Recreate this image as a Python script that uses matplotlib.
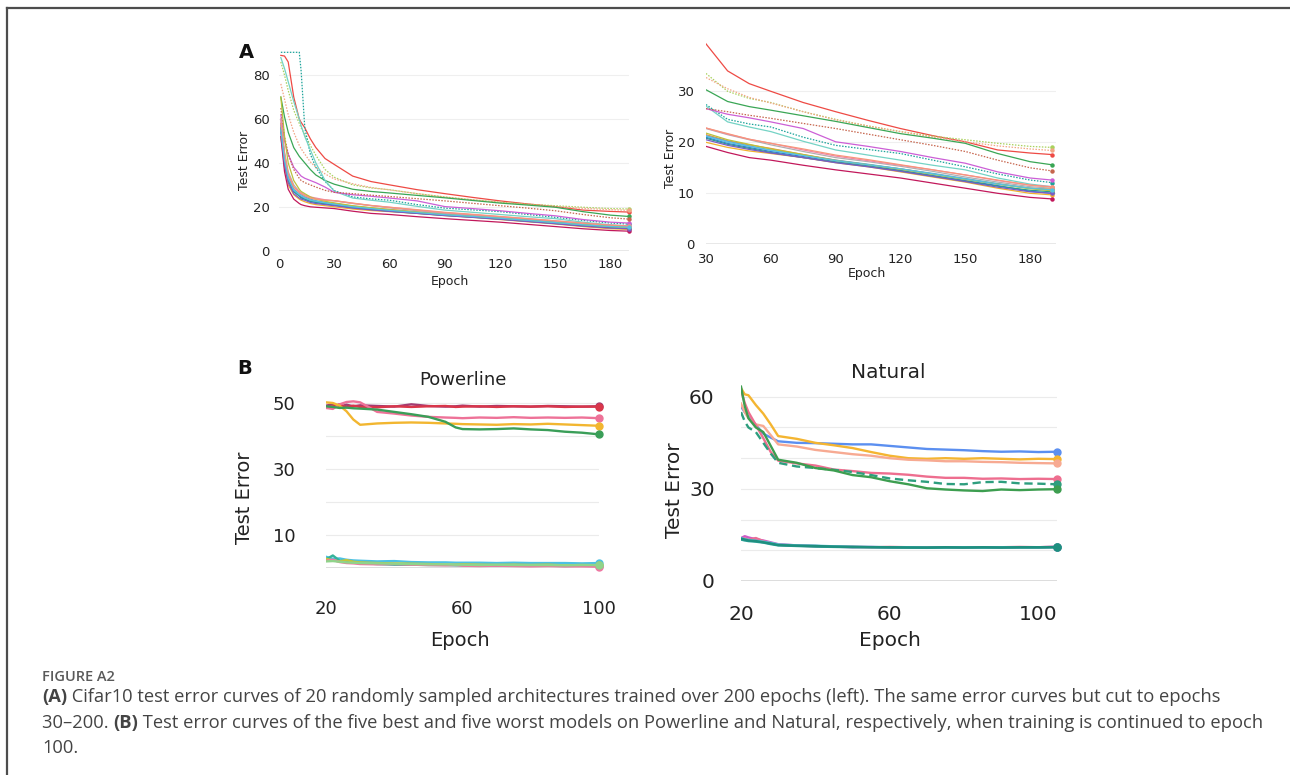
import matplotlib.pyplot as plt
from matplotlib.lines import Line2D

# (A) Cifar10: test error of 20 sampled architectures at selected epochs
arch_epochs = [1, 3, 5, 8, 11, 12, 14, 17, 20, 25, 30, 40, 50, 60, 75, 90, 105, 120, 135, 150, 165, 180, 190]
arch_errors = [
    [89, 88.7, 86, 70, 60, 58.5, 56, 51, 47, 42, 39.3, 34, 31.5, 30, 27.8, 26, 24.3, 22.7, 21.3, 20.1, 18.5, 17.9, 17.6],
    [86, 80, 73, 64, 58, 56, 53, 48, 43.5, 37, 33.5, 30, 28.6, 27.8, 26, 24.5, 23.2, 22.1, 21.2, 20.5, 19.8, 19.2, 19.0],
    [76, 69, 62, 54, 48, 46.5, 44, 40.5, 38, 35, 32.7, 30.5, 28.8, 27.7, 26, 24.4, 23.2, 22.1, 21, 20.1, 19.3, 18.7, 18.4],
    [70, 61, 54, 47, 43, 42, 40, 37, 34.5, 32, 30.3, 28, 27, 26.3, 25.2, 24.1, 22.9, 21.7, 20.8, 19.8, 17.8, 16.2, 15.6],
    [90.4, 90.4, 90.4, 90.4, 90.4, 82, 56, 44, 38, 31.5, 27.4, 24.5, 23.6, 23, 21, 19.4, 18.6, 17.8, 16.5, 15.2, 13.8, 12.6, 12.1],
    [88, 83, 77, 68, 60, 57, 52, 46, 40, 32, 27.1, 24, 23, 22.1, 20.2, 18.5, 17.5, 16.5, 15.5, 14.6, 13, 11.8, 11.3],
    [62, 50, 44, 38, 35, 34, 33, 32, 31, 29, 26.6, 25.5, 24.8, 24, 22.7, 20.1, 19.2, 18.2, 17, 15.9, 14.2, 13, 12.6],
    [65, 52, 44, 37, 33, 32, 31, 30, 29, 27.5, 26.6, 26, 25.3, 24.7, 23.7, 22.7, 21.6, 20.5, 19.4, 18.2, 16.5, 15, 14.4],
    [60, 45, 36, 30, 27, 26, 25, 24, 23.5, 23, 22.7, 21.5, 20.5, 19.5, 18.2, 17, 16.2, 15.3, 14.3, 13.2, 12.2, 11.3, 11],
    [55, 40, 32, 27, 25, 24.5, 24, 23, 22.5, 22, 21.5, 20.3, 19.5, 18.8, 17.6, 16.5, 15.6, 14.8, 13.8, 12.8, 11.8, 11, 10.8],
    [58, 42, 33, 27, 25, 24.5, 23.5, 22.5, 22, 21.5, 21, 19.8, 19, 18.2, 17.2, 16.2, 15.4, 14.5, 13.5, 12.5, 11.5, 10.4, 10],
    [52, 38, 30, 25.5, 23.5, 23, 22.3, 21.5, 21, 20.5, 20, 19, 18.3, 17.8, 17, 16, 15.2, 14.2, 13.2, 12.2, 11, 10, 9.7],
    [56, 41, 32, 27, 25, 24, 23.5, 22.5, 22, 21.3, 20.8, 19.6, 18.8, 18, 17, 16.1, 15.3, 14.4, 13.4, 12.4, 11.4, 10.6, 10.3],
    [57, 43, 34, 28, 26, 25.5, 24.5, 23.5, 22.8, 22, 21.3, 20.2, 19.3, 18.5, 17.5, 16.5, 15.7, 14.8, 13.9, 12.9, 11.9, 11, 10.6],
    [60, 44, 35, 29, 27, 26.5, 25.5, 24.5, 24, 23.2, 22.8, 21.6, 20.6, 19.8, 18.5, 17.3, 16.4, 15.5, 14.6, 13.6, 12.5, 11.6, 11.3],
    [70, 52, 40, 32, 28, 27, 26, 24.5, 23.5, 22.5, 21.8, 20.5, 19.6, 18.7, 17.6, 16.4, 15.6, 14.7, 13.7, 12.7, 11.8, 10.9, 10.5],
    [52, 36, 28, 23.5, 21.5, 21, 20.5, 20, 19.8, 19.5, 19.2, 18, 17, 16.5, 15.5, 14.6, 13.8, 13, 12, 11, 10, 9.2, 8.9],
    [58, 44, 35, 29, 26.5, 26, 25, 24, 23.5, 23, 22.8, 21.7, 20.6, 19.8, 18.7, 17.5, 16.6, 15.6, 14.6, 13.6, 12.6, 11.6, 11.2],
    [54, 39, 31, 26, 24, 23.5, 23, 22, 21.5, 21, 20.5, 19.4, 18.6, 17.9, 17, 16, 15.2, 14.3, 13.3, 12.3, 11.2, 10.3, 10],
    [55, 41, 33, 27.5, 25.5, 25, 24, 23, 22.5, 21.8, 21.2, 20, 19.2, 18.4, 17.4, 16.4, 15.6, 14.8, 13.8, 12.8, 11.8, 11, 10.7],
]
arch_colors = ['#ee4a44', '#a9d15c', '#f2a585', '#3aa655', '#1ba39a', '#74d3c5', '#cc5fd6', '#c6654d',
               '#b0b0b0', '#f28e3c', '#3b6fe0', '#f2b12e', '#2a9d8f', '#5fa8d3', '#f286a8', '#b9c23d',
               '#c2185b', '#f7967a', '#7b5cc4', '#56c4e0']
arch_dotted = [False, True, True, False, True, False, False, True] + [False] * 12

# (B) Powerline: five worst (top) and five best (bottom) models
power_epochs = [20, 22, 24, 26, 28, 30, 35, 40, 45, 50, 55, 58, 60, 65, 70, 75, 80, 85, 90, 95, 100]
power_errors = [
    [49.2, 49.6, 48.8, 49.5, 49.0, 49.3, 49.1, 48.9, 49.6, 49.1, 48.9, 49.0, 49.2, 48.9, 49.1, 49.0, 48.9, 49.1, 49.0, 48.9, 49.0],
    [48.6, 49.0, 49.6, 48.7, 49.2, 48.8, 48.7, 49.0, 48.8, 49.0, 49.1, 48.8, 48.9, 49.0, 48.8, 49.0, 48.9, 49.0, 48.8, 48.9, 48.9],
    [48.5, 48.2, 49.6, 50.3, 50.5, 50.2, 47.3, 46.8, 46.2, 45.8, 45.6, 45.5, 45.4, 45.6, 45.5, 45.7, 45.5, 45.6, 45.5, 45.6, 45.4],
    [50.2, 50.0, 49.2, 47.5, 45.0, 43.4, 43.8, 44.0, 44.1, 44.0, 43.8, 43.7, 43.6, 43.5, 43.4, 43.6, 43.5, 43.7, 43.5, 43.3, 43.1],
    [49.0, 48.8, 48.5, 48.6, 48.4, 48.3, 48.0, 47.3, 46.6, 45.8, 44.3, 42.6, 42.1, 42.0, 42.1, 42.3, 42.0, 41.8, 41.3, 41.0, 40.5],
    [3.4, 2.8, 2.9, 2.5, 2.3, 2.2, 2.0, 2.1, 1.8, 1.7, 1.7, 1.6, 1.6, 1.6, 1.5, 1.6, 1.5, 1.5, 1.5, 1.4, 1.5],
    [2.6, 3.8, 2.2, 2.0, 1.8, 1.5, 1.2, 1.0, 1.0, 0.9, 0.9, 0.8, 0.8, 0.8, 0.7, 0.8, 0.7, 0.7, 0.6, 0.7, 0.6],
    [2.8, 2.3, 2.0, 2.4, 1.9, 1.7, 1.5, 1.4, 1.3, 1.2, 1.0, 1.0, 1.1, 1.0, 0.9, 1.0, 0.9, 1.0, 0.8, 0.9, 0.8],
    [2.2, 2.5, 1.8, 1.5, 1.4, 1.2, 1.1, 1.2, 1.0, 0.9, 0.8, 0.9, 0.7, 0.6, 0.7, 0.6, 0.5, 0.6, 0.5, 0.5, 0.4],
    [2.0, 2.1, 1.9, 1.7, 1.6, 1.5, 1.4, 1.3, 1.2, 1.1, 1.1, 1.0, 1.0, 0.9, 1.0, 0.9, 0.9, 0.9, 0.8, 0.9, 0.9],
]
power_colors = ['#a23b72', '#d9364a', '#ee7298', '#f2b630', '#3a9e58',
                '#4cc1e3', '#36b39a', '#c3c43a', '#ef77a2', '#8fd48a']

# (B) Natural
natural_epochs = [20, 21, 22, 24, 26, 28, 30, 35, 40, 45, 50, 55, 60, 65, 70, 75, 80, 85, 90, 95, 100, 105]
natural_errors = [
    [56.8, 55.0, 53.5, 50.8, 48.0, 46.7, 45.5, 45.0, 44.9, 44.7, 44.5, 44.5, 44.0, 43.5, 43.0, 42.8, 42.6, 42.3, 42.1, 42.2, 42.0, 42.1],
    [62.8, 60.8, 60.5, 57.3, 54.5, 51.0, 47.2, 46.3, 45.0, 44.2, 43.3, 42.0, 40.8, 40.0, 39.8, 40.0, 39.8, 40.0, 39.8, 39.6, 39.8, 39.7],
    [57.8, 55.0, 53.0, 51.0, 50.5, 47.5, 44.5, 43.8, 42.7, 42.0, 41.3, 40.8, 40.0, 39.5, 39.3, 39.0, 39.0, 38.8, 38.7, 38.5, 38.4, 38.3],
    [62.2, 58.0, 55.0, 50.8, 46.5, 42.0, 39.2, 38.3, 37.6, 36.3, 35.8, 35.2, 35.0, 34.6, 34.0, 33.6, 33.6, 33.3, 33.4, 33.2, 33.3, 33.2],
    [55.0, 52.0, 50.0, 48.5, 45.0, 41.5, 38.5, 37.3, 36.8, 36.2, 35.5, 34.5, 33.4, 32.8, 32.3, 31.6, 31.5, 32.2, 32.3, 31.8, 31.7, 31.5],
    [63.3, 57.0, 53.0, 50.0, 48.5, 44.0, 39.5, 38.5, 36.8, 36.0, 34.5, 33.8, 32.5, 31.5, 30.2, 29.8, 29.5, 29.3, 29.8, 29.6, 29.8, 29.9],
    [14.0, 14.6, 14.2, 13.6, 13.2, 12.6, 12.0, 11.6, 11.4, 11.2, 11.0, 11.1, 10.9, 11.0, 10.9, 11.0, 10.9, 11.0, 10.9, 11.0, 11.0, 11.1],
    [13.6, 13.9, 13.5, 14.0, 13.0, 12.3, 11.8, 11.5, 11.3, 11.2, 11.2, 11.0, 11.1, 11.0, 11.0, 10.9, 11.0, 11.0, 11.0, 11.1, 11.0, 11.2],
    [14.0, 13.6, 13.4, 13.1, 12.8, 12.4, 11.9, 11.6, 11.5, 11.3, 11.2, 11.1, 11.0, 11.0, 10.9, 10.9, 11.0, 10.9, 11.0, 11.0, 11.0, 11.1],
    [13.5, 13.2, 13.0, 12.8, 12.5, 12.0, 11.6, 11.4, 11.2, 11.1, 11.0, 11.0, 10.9, 10.9, 10.8, 10.9, 10.9, 10.9, 10.9, 10.9, 10.9, 11.0],
    [13.8, 13.5, 13.2, 13.0, 12.6, 12.2, 11.7, 11.5, 11.4, 11.2, 11.1, 11.0, 11.0, 10.9, 10.9, 11.0, 10.9, 11.0, 10.9, 11.0, 11.0, 11.0],
]
natural_colors = ['#5b8ff0', '#f4b531', '#f7aa92', '#ee6e8f', '#2e9e7e', '#3d9e50',
                  '#d05cc8', '#ea6f96', '#55c4d8', '#2aa198', '#1f8f7f']
natural_dashed = [False, False, False, False, True, False] + [False] * 5

W, H = 1290, 775
TEXT = '#222222'
GRID = '#efefef'


def px_axes(fig, left, top, right, bottom):
    """Axes placed by pixel edges measured from the top-left corner."""
    return fig.add_axes([left / W, 1 - bottom / H, (right - left) / W, (bottom - top) / H])


def fig_text(fig, x, y, s, **kw):
    return fig.text(x / W, 1 - y / H, s, **kw)


def style_axes(ax, grid_lw, zero_color):
    for sp in ax.spines.values():
        sp.set_visible(False)
    ax.tick_params(length=0, colors=TEXT)
    ax.grid(False)
    ax.axhline(0, color=zero_color, lw=grid_lw * 1.4, zorder=0)


fig = plt.figure(figsize=(W / 100, H / 100), dpi=100)
plt.rcParams['font.family'] = 'DejaVu Sans'

# ---------------- panel A, full run ----------------
ax1 = px_axes(fig, 279, 48.8, 629, 250.7)
ax1.set_xlim(0, 190)
ax1.set_ylim(0, 92)
for g in [20, 40, 60, 80]:
    ax1.axhline(g, color=GRID, lw=0.8, zorder=0)
for vals, c, dot in zip(arch_errors, arch_colors, arch_dotted):
    ls = (0, (1.2, 1.2)) if dot else '-'
    ax1.plot(arch_epochs, vals, color=c, lw=0.9, ls=ls)
    ax1.plot(arch_epochs[-1], vals[-1], 'o', color=c, ms=2.2, clip_on=False)
ax1.set_xticks([0, 30, 60, 90, 120, 150, 180])
ax1.set_yticks([0, 20, 40, 60, 80])
style_axes(ax1, 0.8, '#e2e2e2')
ax1.tick_params(axis='x', pad=5, labelsize=9.5)
ax1.tick_params(axis='y', pad=6.5, labelsize=9.5)
fig_text(fig, 245, 160, 'Test Error', rotation=90, ha='center', va='center', fontsize=9, color=TEXT)
fig_text(fig, 450, 281, 'Epoch', ha='center', va='center', fontsize=9, color=TEXT)
fig_text(fig, 246, 52, 'A', ha='center', va='center', fontsize=14, fontweight='bold', color='#111111')

# ---------------- panel A, epochs 30+ ----------------
start = arch_epochs.index(30)
ax2 = px_axes(fig, 706, 40.3, 1056, 244.3)
ax2.set_xlim(30, 192)
ax2.set_ylim(0, 40)
for g in [10, 20, 30]:
    ax2.axhline(g, color=GRID, lw=0.8, zorder=0)
for vals, c, dot in zip(arch_errors, arch_colors, arch_dotted):
    ls = (0, (1.2, 1.2)) if dot else '-'
    ax2.plot(arch_epochs[start:], vals[start:], color=c, lw=0.9, ls=ls)
    ax2.plot(arch_epochs[-1], vals[-1], 'o', color=c, ms=2.2, clip_on=False)
ax2.set_xticks([30, 60, 90, 120, 150, 180])
ax2.set_yticks([0, 10, 20, 30])
style_axes(ax2, 0.8, '#e2e2e2')
ax2.tick_params(axis='x', pad=6.5, labelsize=9.5)
ax2.tick_params(axis='y', pad=8, labelsize=9.5)
fig_text(fig, 670, 158, 'Test Error', rotation=90, ha='center', va='center', fontsize=9, color=TEXT)
fig_text(fig, 867, 273, 'Epoch', ha='center', va='center', fontsize=9, color=TEXT)

# ---------------- panel B, Powerline ----------------
ax3 = px_axes(fig, 326, 399.7, 599, 568)
ax3.set_xlim(20, 100)
ax3.set_ylim(0, 51)
for g in [10, 20, 30, 40, 50]:
    ax3.axhline(g, color='#ebebeb', lw=0.8, zorder=0)
for vals, c in zip(power_errors, power_colors):
    ax3.plot(power_epochs, vals, color=c, lw=1.7)
    ax3.plot(power_epochs[-1], vals[-1], 'o', color=c, ms=5, clip_on=False)
ax3.set_xticks([20, 60, 100])
ax3.set_yticks([10, 30, 50])
style_axes(ax3, 1.0, '#dddddd')
ax3.tick_params(axis='x', pad=23, labelsize=13)
ax3.tick_params(axis='y', pad=22, labelsize=13)
fig_text(fig, 245, 498, 'Test Error', rotation=90, ha='center', va='center', fontsize=14, color=TEXT)
fig_text(fig, 460, 640, 'Epoch', ha='center', va='center', fontsize=14, color=TEXT)
fig_text(fig, 463, 380, 'Powerline', ha='center', va='center', fontsize=13, color=TEXT)
fig_text(fig, 245, 368, 'B', ha='center', va='center', fontsize=14, fontweight='bold', color='#111111')

# ---------------- panel B, Natural ----------------
ax4 = px_axes(fig, 741, 384.5, 1057, 581)
ax4.set_xlim(20, 105)
ax4.set_ylim(0, 64)
for g in [10, 20, 30, 40, 50, 60]:
    ax4.axhline(g, color='#ebebeb', lw=0.8, zorder=0)
for vals, c, dash in zip(natural_errors, natural_colors, natural_dashed):
    ls = (0, (3.5, 2)) if dash else '-'
    ax4.plot(natural_epochs, vals, color=c, lw=1.7, ls=ls)
    ax4.plot(natural_epochs[-1], vals[-1], 'o', color=c, ms=5, clip_on=False)
ax4.set_xticks([20, 60, 100])
ax4.set_yticks([0, 30, 60])
style_axes(ax4, 1.0, '#dddddd')
ax4.tick_params(axis='x', pad=17, labelsize=14.5)
ax4.tick_params(axis='y', pad=19, labelsize=14.5)
fig_text(fig, 675, 490, 'Test Error', rotation=90, ha='center', va='center', fontsize=14.5, color=TEXT)
fig_text(fig, 890, 640, 'Epoch', ha='center', va='center', fontsize=14.5, color=TEXT)
fig_text(fig, 888, 372, 'Natural', ha='center', va='center', fontsize=14.5, color=TEXT)

# ---------------- frame and caption ----------------
fig.add_artist(Line2D([7 / W, 1], [1 - 8 / H, 1 - 8 / H], color='#4d4d4d', lw=1.6))
fig.add_artist(Line2D([7 / W, 7 / W], [0, 1 - 8 / H], color='#4d4d4d', lw=1.6))

renderer = fig.canvas.get_renderer()


def caption_line(y, runs, size=13.2):
    x = 42
    for s, weight in runs:
        t = fig_text(fig, x, y, s, ha='left', va='center', fontsize=size, fontweight=weight,
                     color='#444444', family='Open Sans')
        x += t.get_window_extent(renderer).width


fig_text(fig, 42, 677, 'FIGURE A2', ha='left', va='center', fontsize=10.5, fontweight='semibold',
         color='#5a5a5a', family='Open Sans')
caption_line(697, [('(A)', 'bold'), (' Cifar10 test error curves of 20 randomly sampled architectures trained over '
                                      '200 epochs (left). The same error curves but cut to epochs', 'normal')])
caption_line(723, [('30\u2013200. ', 'normal'), ('(B)', 'bold'),
                   (' Test error curves of the five best and five worst models on Powerline and Natural, '
                    'respectively, when training is continued to epoch', 'normal')])
caption_line(748, [('100.', 'normal')])

fig.savefig('out.png', dpi=100)
